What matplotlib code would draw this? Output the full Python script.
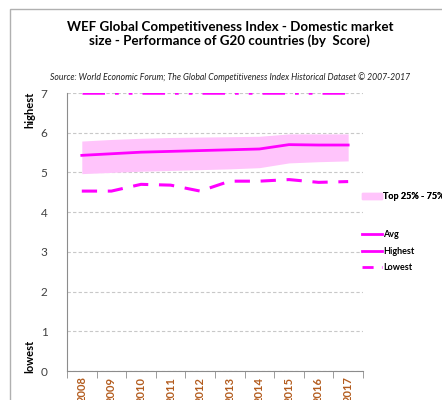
import numpy as np
import matplotlib.pyplot as plt
from matplotlib.lines import Line2D
from matplotlib.patches import Patch, Rectangle

plt.rcParams['font.family'] = ['Lato', 'DejaVu Sans']

years = ['2008', '2009', '2010', '2011', '2012', '2013', '2014', '2015', '2016', '2017']
avg = [5.43, 5.47, 5.51, 5.53, 5.55, 5.57, 5.59, 5.70, 5.69, 5.69]
q25 = [4.97, 5.00, 5.03, 5.05, 5.07, 5.09, 5.12, 5.24, 5.27, 5.29]
q75 = [5.79, 5.83, 5.86, 5.88, 5.89, 5.90, 5.91, 5.97, 5.97, 5.97]
highest = [7.0, 7.0, 7.0, 7.0, 7.0, 7.0, 7.0, 7.0, 7.0, 7.0]
lowest = [4.53, 4.53, 4.70, 4.68, 4.53, 4.78, 4.78, 4.82, 4.75, 4.77]

mag = '#ff00ff'
band = '#ffc4fb'

fig = plt.figure(figsize=(4.42, 4.0), dpi=100)
ax = fig.add_axes([0.1516, 0.0725, 0.6696, 0.695])

x = np.arange(len(years))
ax.fill_between(x, q25, q75, color=band, lw=0, zorder=2)
ax.plot(x, avg, color=mag, lw=2, zorder=3)
ax.plot(x, highest, color=mag, lw=1.8, dashes=(9, 4, 1.5, 4, 1.5, 4), zorder=3)
ax.plot(x, lowest, color=mag, lw=2.2, dashes=(5, 3.5), zorder=3)

ax.set_xlim(-0.5, len(years) - 0.5)
ax.set_ylim(0, 7)
ax.set_yticks(range(0, 8))
ax.grid(axis='y', color='#c8c8c8', ls=(0, (3, 2)), lw=0.8, zorder=0)
ax.set_axisbelow(True)

ax.set_xticks(x)
ax.set_xticklabels(years, rotation=90, fontsize=8, fontweight='bold', color='#b35c1e')
ax.set_xticks(np.arange(-0.5, len(years)), minor=True)
ax.tick_params(axis='x', which='major', length=0, pad=4)
ax.tick_params(axis='x', which='minor', length=5, color='#8c8c8c')
ax.tick_params(axis='y', length=0, labelsize=8.5, labelcolor='#404040', pad=14)

for s in ['top', 'right']:
    ax.spines[s].set_visible(False)
for s in ['left', 'bottom']:
    ax.spines[s].set_color('#8c8c8c')

fig.text(0.068, 0.725, 'highest', rotation=90, fontsize=8, fontweight='bold', ha='center', va='center')
fig.text(0.068, 0.11, 'lowest', rotation=90, fontsize=8, fontweight='bold', ha='center', va='center')

fig.text(0.52, 0.915, 'WEF Global Competitiveness Index - Domestic market\nsize - Performance of G20 countries (by  Score)',
         ha='center', va='center', fontsize=9.6, fontweight='bold', linespacing=1.2)
fig.text(0.52, 0.808, 'Source: World Economic Forum; The Global Competitiveness Index Historical Dataset \u00a9 2007-2017',
         ha='center', va='center', fontsize=6.2, style='italic', color='#202020')

leg1 = fig.legend(handles=[Patch(color=band)], labels=['Top 25% - 75%'],
                  loc='center left', bbox_to_anchor=(0.80, 0.508), frameon=False,
                  handlelength=2.2, handletextpad=0.2, prop={'weight': 'bold', 'size': 6.5})
fig.add_artist(leg1)
handles = [Line2D([], [], color=mag, lw=2),
           Line2D([], [], color=mag, lw=2),
           Line2D([], [], color=mag, lw=2, dashes=(4, 3))]
fig.legend(handles=handles, labels=['Avg', 'Highest', 'Lowest'],
           loc='center left', bbox_to_anchor=(0.80, 0.372), frameon=False,
           handlelength=2.2, handletextpad=0.2, labelspacing=0.85,
           prop={'weight': 'bold', 'size': 6.5})

fig.add_artist(Rectangle((0.023, -0.01), 1.0, 0.988, transform=fig.transFigure,
                         fill=False, ec='#b0b0b0', lw=1))

fig.savefig('out.png', dpi=100)
